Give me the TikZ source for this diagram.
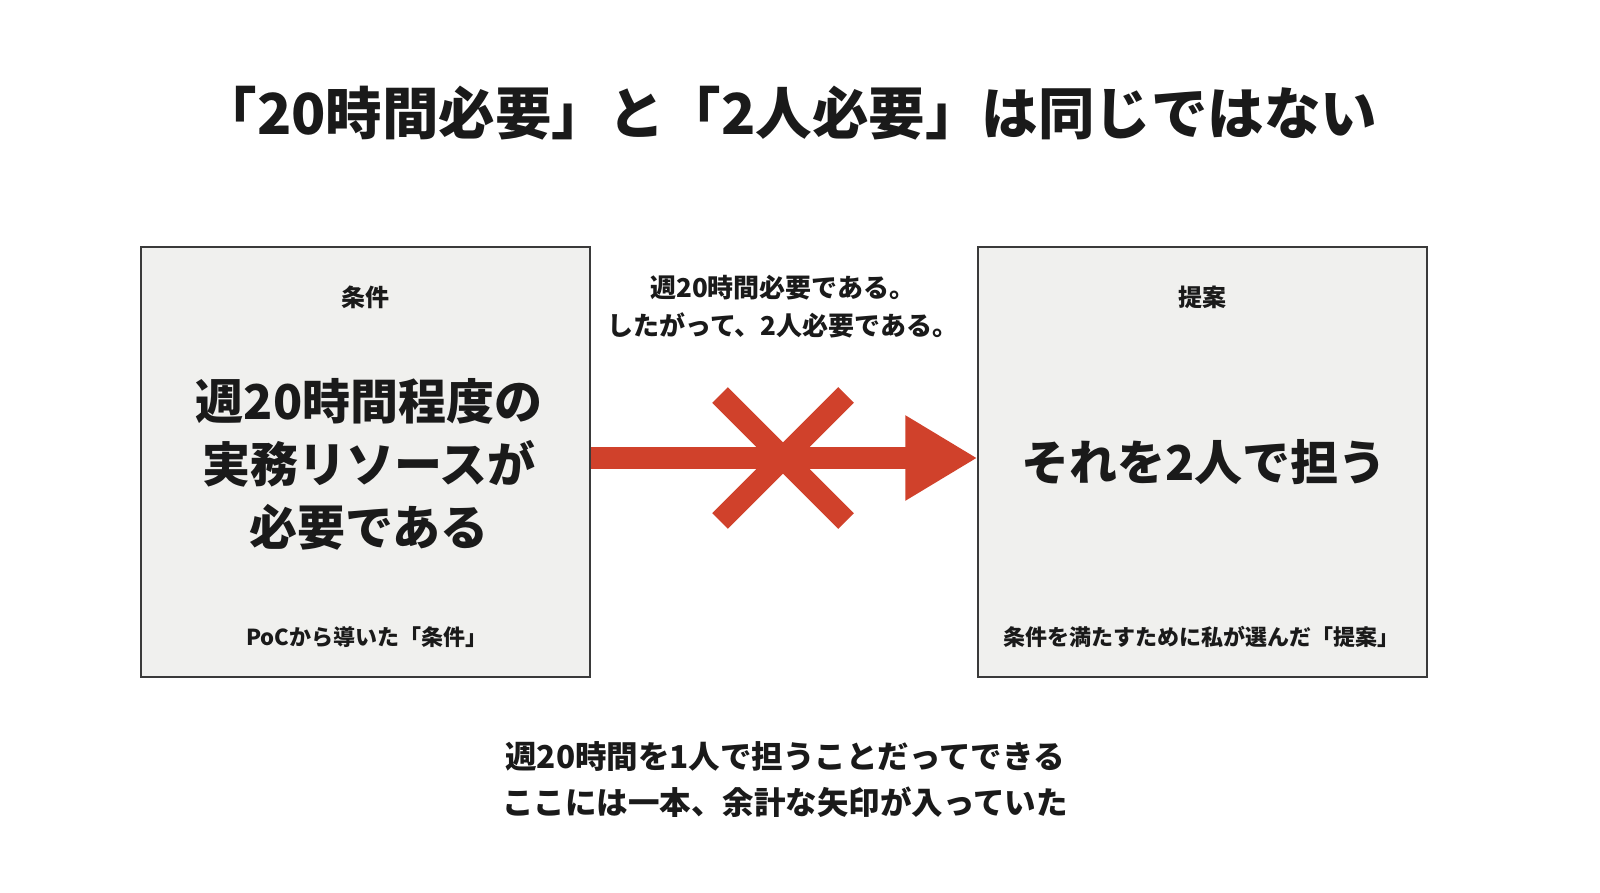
\documentclass[tikz,border=0pt]{standalone}
\usepackage{fontspec}
\newfontfamily\jp{Noto Sans CJK JP}
\usetikzlibrary{arrows.meta}
\definecolor{ink}{HTML}{1A1A1A}
\definecolor{boxfill}{HTML}{F0F0EE}
\definecolor{boxline}{HTML}{3A3A3A}
\definecolor{redmark}{HTML}{D0412B}
\tikzset{
  panel/.style={draw=boxline, line width=1.2pt, fill=boxfill, minimum width=449pt, minimum height=430pt, inner sep=0pt},
  txt/.style={text=ink, font=\jp\bfseries, inner sep=0pt, align=center},
  redline/.style={draw=redmark, line width=22pt}
}
\begin{document}
\begin{tikzpicture}[x=1pt,y=-1pt]
\fill[white] (0,0) rectangle (1600,893);
\useasboundingbox (0,0) rectangle (1600,893);
% title
\node[txt, font=\jp\bfseries\fontsize{56.5}{60}\selectfont] (title) at (789,113) {「20時間必要」と「2人必要」は同じではない};
% boxes
\node[panel] (L) at (365.5,462) {};
\node[panel] (R) at (1202.5,462) {};
% left contents
\node[txt, font=\jp\bfseries\fontsize{24}{28}\selectfont] (Lhead) at (365,297) {条件};
\node[txt, font=\jp\bfseries\fontsize{48}{63}\selectfont] (Lmain) at (369,464) {週20時間程度の\\実務リソースが\\必要である};
\node[txt, font=\jp\bfseries\fontsize{22}{26}\selectfont] (Lfoot) at (367,637) {PoCから導いた「条件」};
% right contents
\node[txt, font=\jp\bfseries\fontsize{24}{28}\selectfont] (Rhead) at (1202,297) {提案};
\node[txt, font=\jp\bfseries\fontsize{48}{63}\selectfont] (Rmain) at (1204,462) {それを2人で担う};
\node[txt, font=\jp\bfseries\fontsize{22}{26}\selectfont] (Rfoot) at (1201,637) {条件を満たすために私が選んだ「提案」};
% middle text
\node[txt, font=\jp\bfseries\fontsize{26}{38}\selectfont] (mid) at (783,307) {週20時間必要である。\\したがって、2人必要である。};
% arrow
\draw[redline, -{Triangle[length=72pt,width=80pt]}] (L.east |- 0,458) -- (R.west |- 0,458);
% cross
\coordinate (X) at (783,458);
\draw[redline] ([shift={(-63,-63)}]X) -- ([shift={(63,63)}]X);
\draw[redline] ([shift={(-63,63)}]X) -- ([shift={(63,-63)}]X);
% bottom text
\node[txt, font=\jp\bfseries\fontsize{31.5}{46}\selectfont] (bottom) at (785,780) {週20時間を1人で担うことだってできる\\ここには一本、余計な矢印が入っていた};
\end{tikzpicture}
\end{document}
